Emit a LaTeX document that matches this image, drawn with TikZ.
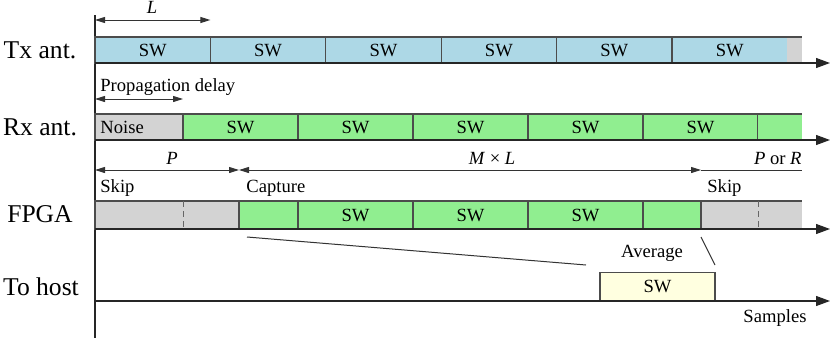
\documentclass[tikz,border=0pt]{standalone}
\usepackage{fontspec}
\setmainfont{Liberation Serif}
\usetikzlibrary{arrows.meta,positioning}
\definecolor{txblue}{HTML}{ADD8E6}
\definecolor{rxgreen}{HTML}{90EE90}
\definecolor{skipgray}{HTML}{D3D3D3}
\definecolor{hostyellow}{HTML}{FFFFE0}
\tikzset{
 tl cell/.style={draw=black!70,line width=0.6pt,inner sep=0pt,outer sep=0pt,
                 anchor=south west,font=\fontsize{9.3}{11}\selectfont},
 tl tail/.style={tl cell,draw=none},
 tl edge/.style={line width=0.6pt,draw=black!70},
 tl axis/.style={line width=0.6pt,draw=black!85,-{Triangle[length=7pt,width=5pt]}},
 tl dim/.style={line width=0.5pt,draw=black!80,
                {Triangle[length=5pt,width=3pt]}-{Triangle[length=5pt,width=3pt]}},
 tl split/.style={line width=0.5pt,draw=black!60,dash pattern=on 3pt off 2pt},
 tl small/.style={inner sep=0pt,font=\fontsize{9.3}{11}\selectfont},
 tl big/.style={inner sep=0pt,font=\fontsize{12.8}{15}\selectfont}
}
\begin{document}
\begin{tikzpicture}[x=0.5pt,y=-0.5pt]
 \useasboundingbox (0,0) rectangle (831,338);

 % time axis and row labels
 \coordinate (top) at (95,15);
 \coordinate (bot) at (95,338);
 \draw[line width=0.6pt,black!85] (top) -- (bot);
 \node[tl big] (lbltx) at (40,50) {Tx ant.};
 \node[tl big] (lblrx) at (40,127) {Rx ant.};
 \node[tl big] (lblfp) at (40,214) {FPGA};
 \node[tl big] (lblhost) at (41,287) {To host};

 % Tx antenna
 \foreach \i in {1,...,6}
   \node[tl cell,fill=txblue,minimum width=57.7pt,minimum height=13pt]
     (tx\i) at ({95+115.4*(\i-1)},63) {SW};
 \node[tl tail,fill=skipgray,minimum width=7.3pt,minimum height=13pt,right=0pt of tx6] (txrest) {};
 \draw[tl edge] (txrest.north west) -- (txrest.north east);
 \coordinate (txend) at (830,63);
 \draw[tl axis] (tx1.south west) -- (txend);
 \coordinate (dimL) at (95,20);
 \draw[tl dim] (dimL) -- (tx1.east |- dimL);
 \node[tl small] (lblL) at (152,7) {\textit{L}};

 % Rx antenna
 \node[tl cell,fill=skipgray,minimum width=44pt,minimum height=13pt] (rxn) at (95,140) {};
 \node[tl small,anchor=west] (lblnoise) at (100,127) {Noise};
 \foreach \i in {1,...,5}
   \node[tl cell,fill=rxgreen,minimum width=57.5pt,minimum height=13pt]
     (rx\i) at ({183+115*(\i-1)},140) {SW};
 \node[tl tail,fill=rxgreen,minimum width=22pt,minimum height=13pt,right=0pt of rx5] (rx6) {};
 \draw[tl edge] (rx6.north west) -- (rx6.north east);
 \coordinate (rxend) at (830,140);
 \draw[tl axis] (rxn.south west) -- (rxend);
 \coordinate (dimprop) at (95,99);
 \draw[tl dim] (dimprop) -- (rx1.west |- dimprop);
 \node[tl small,anchor=west] (lblprop) at (100,87) {Propagation delay};

 % FPGA
 \node[tl cell,fill=skipgray,minimum width=72pt,minimum height=14pt] (fps) at (95,229) {};
 \node[tl cell,fill=rxgreen,minimum width=29.5pt,minimum height=14pt,right=0pt of fps] (fp0) {};
 \foreach \i in {1,2,3}
   \node[tl cell,fill=rxgreen,minimum width=57.5pt,minimum height=14pt]
     (fp\i) at ({298+115*(\i-1)},229) {SW};
 \node[tl cell,fill=rxgreen,minimum width=29pt,minimum height=14pt,right=0pt of fp3] (fp4) {};
 \node[tl tail,fill=skipgray,minimum width=50.5pt,minimum height=14pt,right=0pt of fp4] (fpr) {};
 \draw[tl edge] (fpr.north west) -- (fpr.north east);
 \draw[tl edge] (fpr.north west) -- (fpr.south west);
 \draw[tl split] (rx1.west |- fps.north) -- (rx1.west |- fps.south);
 \draw[tl split] (rx6.west |- fpr.north) -- (rx6.west |- fpr.south);
 \coordinate (fpend) at (830,229);
 \draw[tl axis] (fps.south west) -- (fpend);

 \coordinate (dimP) at (95,170);
 \coordinate (dimR) at (802,170);
 \draw[tl dim] (dimP) -- (fp0.west |- dimP);
 \draw[tl dim] (fp0.west |- dimP) -- (fpr.west |- dimP);
 \draw[tl dim,-] (fpr.west |- dimP) -- (dimR);
 \node[tl small] (lblP) at (172,158) {\textit{P}};
 \node[tl small] (lblML) at (492,158) {\textit{M} × \textit{L}};
 \node[tl small,anchor=east] (lblPR) at (802,158) {\textit{P} or \textit{R}};
 \node[tl small,anchor=west] (lblskip1) at (100,188) {Skip};
 \node[tl small,anchor=west] (lblcap) at (246,188) {Capture};
 \node[tl small,anchor=west] (lblskip2) at (707,188) {Skip};

 % to host
 \node[tl cell,fill=hostyellow,minimum width=57.5pt,minimum height=14.25pt] (host) at (600,301) {SW};
 \coordinate (hostend) at (830,301);
 \draw[tl axis] (bot |- host.south) -- (hostend);
 \coordinate (avga) at (247,237);
 \coordinate (avgb) at (586,265);
 \coordinate (avgc) at (701,237);
 \coordinate (avgd) at (715,265);
 \draw[line width=0.5pt,black!80] (avga) -- (avgb);
 \draw[line width=0.5pt,black!80] (avgc) -- (avgd);
 \node[tl small] (lblavg) at (652,253) {Average};
 \node[tl small] (lblsamples) at (775,318) {Samples};
\end{tikzpicture}
\end{document}
